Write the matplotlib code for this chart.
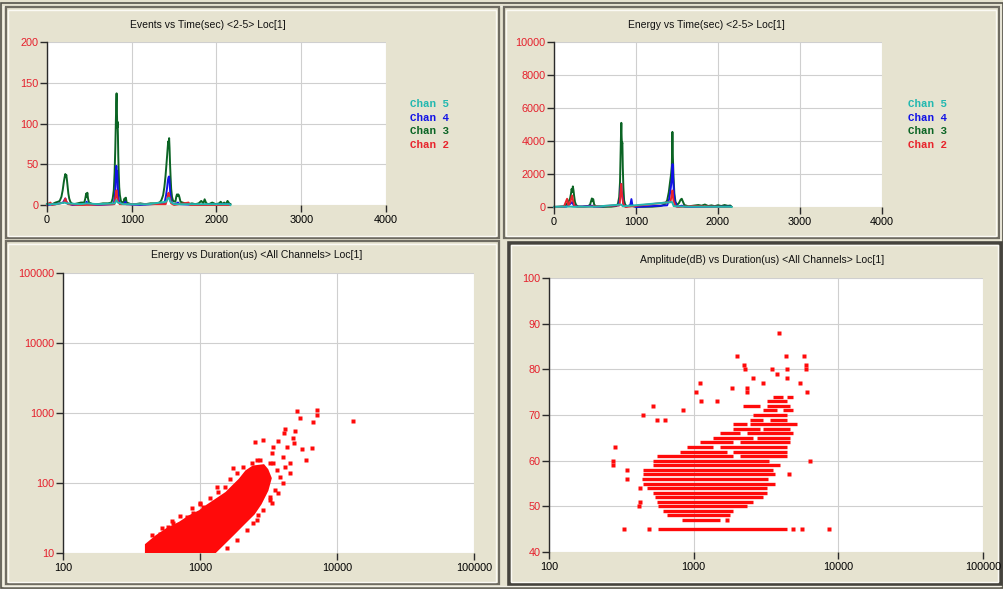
import numpy as np
import matplotlib
matplotlib.use("Agg")
import matplotlib.pyplot as plt
from matplotlib.patches import Rectangle

# ---------------------------------------------------------------- data
# Hit counts per channel over time (time in sec, count)
chan3_events = [(0,1),(30,2),(60,1),(100,3),(130,4),(150,5),(170,10),(185,18),(198,28),(208,34),(216,38),(222,35),(228,37),(236,30),(244,22),(252,14),(262,8),(275,4),(290,2),
                (320,1),(360,2),(400,3),(440,3),(452,8),(462,14),(470,10),(476,15),(484,8),(495,3),(540,1),(600,1),(660,2),(720,2),
                (760,3),(775,8),(788,18),(798,40),(806,70),(812,100),(817,125),(821,137),(825,115),(829,95),(833,102),(837,85),(841,60),(846,40),(852,22),(860,12),(872,5),(885,3),
                (905,4),(915,8),(922,5),(930,9),(940,3),(990,1),(1040,1),(1100,2),(1160,1),(1220,2),(1280,2),
                (1330,3),(1350,6),(1370,12),(1385,22),(1398,35),(1408,48),(1417,60),(1424,70),(1430,78),(1436,74),(1441,82),(1446,70),(1452,50),(1458,35),(1465,20),(1475,10),(1488,5),
                (1515,4),(1525,10),(1533,13),(1540,11),(1548,13),(1556,12),(1564,9),(1575,4),(1600,3),(1630,2),(1670,1),(1710,2),(1750,1),(1790,2),(1820,5),(1845,2),(1860,7),(1880,2),
                (1910,1),(1950,3),(1990,1),(2030,2),(2050,4),(2070,1),(2090,3),(2110,1),(2130,5),(2150,2),(2165,1)]
chan4_events = [(0,0),(100,1),(190,3),(205,6),(216,8),(226,5),(240,2),(300,0),(455,1),(468,4),(480,1),(600,0),(780,1),
                (790,3),(800,10),(808,22),(814,40),(818,48),(823,35),(828,42),(834,25),(842,10),(852,3),(880,1),(915,2),(925,4),(935,1),(1100,0),
                (1380,2),(1390,4),(1405,12),(1418,22),(1426,30),(1434,34),(1440,35),(1446,30),(1454,15),(1465,5),(1480,2),(1515,1),(1545,3),(1565,1),(1800,0),(2150,1)]
chan2_events = [(0,0),(40,3),(60,0),(200,3),(216,8),(228,4),(250,1),(400,0),(795,1),(806,8),(814,15),(820,18),(826,12),(836,5),(858,1),
                (1400,1),(1420,8),(1434,15),(1446,10),(1465,2),(1500,0),(1670,3),(1690,0),(2150,0)]
chan5_events = [(0,1),(100,1),(210,3),(230,2),(400,1),(470,2),(600,1),(800,2),(818,6),(836,3),(900,1),(1200,1),(1405,4),(1425,8),(1440,9),(1455,4),(1500,1),(1800,1),(2150,1),(2165,0)]

# Energy per channel over time (time in sec, energy)
chan3_energy = [(0,10),(60,20),(120,40),(150,150),(175,300),(195,500),(207,800),(215,1100),(222,900),(230,1250),(238,1000),(246,650),(256,300),(270,120),(290,40),(350,20),(420,60),
                (440,150),(452,350),(462,520),(470,350),(478,480),(490,150),(510,40),(600,10),(700,20),(760,60),(780,200),(795,600),(805,1500),(812,3200),(818,4600),(821,5100),(825,4200),(829,3800),(834,3900),(839,2400),(846,1200),(855,400),(868,150),(885,60),
                (925,80),(945,150),(965,40),(1050,10),(1200,20),(1300,60),(1350,150),(1380,400),(1400,900),(1415,1500),(1428,2000),(1437,2500),(1444,4550),(1450,3000),(1458,1800),(1468,800),(1482,300),(1500,120),
                (1525,250),(1545,450),(1558,500),(1570,350),(1590,120),(1640,40),(1700,80),(1760,120),(1800,80),(1840,150),(1880,60),(1920,100),(1960,50),(2000,110),(2040,60),(2080,120),(2120,70),(2150,90),(2165,20)]
chan4_energy = [(0,0),(150,20),(200,200),(222,300),(240,100),(300,10),(466,80),(486,10),(790,100),(803,500),(812,1100),(818,1400),(824,1000),(834,700),(848,150),(880,20),
                (930,100),(944,480),(956,100),(1000,0),(1380,100),(1405,500),(1425,1200),(1438,1800),(1446,2600),(1456,1400),(1470,400),(1500,20),(1560,80),(1600,0),(2150,20)]
chan2_energy = [(0,0),(120,10),(160,500),(175,100),(200,300),(220,700),(232,400),(250,50),(300,0),(800,100),(810,800),(816,1200),(820,1400),(828,800),(843,200),(870,0),
                (1420,300),(1438,800),(1444,1000),(1456,400),(1480,50),(1520,0),(1680,50),(2150,0)]
chan5_energy = [(0,5),(200,30),(240,10),(500,20),(818,150),(840,40),(1440,300),(1460,50),(1600,20),(2150,10),(2165,0)]

# Energy vs duration: outline of the dense cloud (duration us, energy)
cloud_duration = [408, 408, 483, 571, 714, 845, 1000, 1119, 1324, 1566, 1750, 1958, 2191, 2449, 2898,
                  3069, 3243, 3069, 2741, 2449, 2070, 1750, 1479, 1251]
cloud_energy   = [10, 13.0, 17.1, 21.3, 26.6, 33, 38.9, 45.9, 57.1, 71.2, 88.6, 110, 145, 168, 175,
                  153, 117, 79, 51, 36.9, 26.6, 19.1, 13.8, 10]
# isolated hits around the cloud
hit_duration = [5080, 5370, 7110, 7170, 6650, 13030, 4170, 4100, 4935, 4750, 4860, 5520, 6530, 5940,
                2900, 2520, 3730, 3430, 4290, 3340, 4050, 4540, 3240, 2740, 4170, 4540, 3840, 4050,
                3730, 3240, 3340, 2665, 2449, 1750, 1324, 1000, 1060, 893, 800, 638, 511, 587, 1960,
                444, 457,
                444, 525, 621, 714, 869, 1000, 1183, 1361, 1521, 1656, 1853, 2070, 2384, 2594,
                3428, 3630, 3526, 3243, 2898, 2594, 2191, 1853, 1566, 638, 483]
hit_energy = [1068, 857, 1104, 936, 751, 776, 585, 513, 553, 435, 369, 306, 313, 213,
              411, 389, 402, 330, 330, 266, 238, 191, 191, 213, 171, 138, 123, 99,
              71, 63, 51, 35, 26.6, 162, 88.5, 51, 45.8, 36.9, 33, 26.6, 18.7, 23.7, 26.6,
              11, 13.7,
              18.1, 23.0, 29.0, 33.8, 43.5, 50.1, 60.4, 75.1, 88.6, 113, 140, 168, 191, 213,
              191, 153, 79, 57, 41, 29.6, 21.3, 15.3, 11.7, 20.2, 14.5]

# Amplitude vs duration: runs of hits at each amplitude level (dB, from us, to us)
row_db = [45, 47, 48, 49, 50, 51, 52, 53, 54, 55, 56, 57, 58, 59, 60,
          61, 61, 62, 62, 63, 63, 64, 64, 65, 65, 66, 66, 67, 67, 68, 68,
          69, 69, 70, 71, 71, 72, 72, 73, 74, 74]
row_lo = [570, 826, 650, 617, 570, 555, 540, 526, 473, 449, 437, 449, 449, 526, 526,
          555, 2089, 805, 1878, 895, 1520, 1106, 2089, 1366, 2725, 1520, 2323, 1878, 3030, 1878, 2449,
          2449, 3367, 2582, 3030, 4160, 2203, 3196, 3196, 3550, 4396]
row_hi = [4390, 1520, 1782, 1878, 2323, 2582, 3030, 3196, 3196, 3645, 3280, 3645, 3550, 3948, 3333,
          1878, 4396, 1690, 4396, 1366, 4396, 1878, 4630, 2582, 4630, 2089, 4878, 2873, 4630, 2323, 5147,
          3030, 4396, 4396, 3750, 4878, 2873, 4630, 4396, 4160, 4878]
# isolated hits (dB, us)
amp_db  = [88, 83, 83, 83, 81, 80, 80, 80, 81, 80, 79, 77, 78, 76, 76, 77, 78, 75, 75, 75, 77,
           73, 73, 72, 70, 71, 69, 69, 60, 57, 45, 45, 45, 45, 45, 63, 60, 59, 58, 56, 50, 51, 47, 54]
amp_dur = [3908, 2003, 4325, 5815, 2230, 2263, 3500, 4400, 5950, 5950, 3780, 1106, 2582, 1830, 2323, 3030, 4420, 1040, 2323, 6100, 5400,
           1120, 1442, 526, 449, 840, 630, 555, 6366, 4530, 330, 493, 4880, 5570, 8610, 286, 278, 278, 344, 344, 421, 425, 1690, 425]

time_ticks = [0, 1000, 2000, 3000, 4000]
events_ticks = [0, 50, 100, 150, 200]
energy_ticks = [0, 2000, 4000, 6000, 8000, 10000]
log_ticks = [100, 1000, 10000, 100000]
energy_log_ticks = [10, 100, 1000, 10000, 100000]
amp_ticks = [40, 50, 60, 70, 80, 90, 100]

channels = ["Chan 5", "Chan 4", "Chan 3", "Chan 2"]
chan_colors = {"Chan 5": "#22B8B0", "Chan 4": "#1212E6", "Chan 3": "#0B6424", "Chan 2": "#E8242C"}

# ---------------------------------------------------------------- layout helpers
W, H = 1004, 589
BG = "#E6E3D0"
RED = "#FF0A0A"
LABEL_RED = "#E5202C"
SANS = ["Liberation Sans", "DejaVu Sans"]
MONO = ["Liberation Mono", "DejaVu Sans Mono"]

fig = plt.figure(figsize=(W / 100, H / 100), dpi=100, facecolor=BG)


def box(x0, y0, x1, y1):
    return [x0 / W, 1 - y1 / H, (x1 - x0) / W, (y1 - y0) / H]


def frame(x0, y0, x1, y1, dark="#6F6C62", light="#FBFAF4", lw=1.6):
    fig.add_artist(Rectangle((x0 / W, 1 - y1 / H), (x1 - x0) / W, (y1 - y0) / H,
                             transform=fig.transFigure, fill=False, ec=dark, lw=lw, zorder=-2))
    fig.add_artist(Rectangle(((x0 + 2.5) / W, 1 - (y1 - 2.5) / H), (x1 - x0 - 5) / W, (y1 - y0 - 5) / H,
                             transform=fig.transFigure, fill=False, ec=light, lw=1.0, zorder=-2))


def style(ax, xt, yt):
    ax.set_facecolor("white")
    for s in ("top", "right", "bottom"):
        ax.spines[s].set_visible(False)
    ax.spines["left"].set_color("#2A2A2A")
    ax.spines["left"].set_linewidth(1.0)
    ax.set_xticks(xt)
    ax.set_yticks(yt)
    ax.minorticks_off()
    ax.set_xticklabels([str(v) for v in xt])
    ax.set_yticklabels([str(v) for v in yt])
    ax.grid(True, color="#CFCFCF", lw=0.8)
    ax.set_axisbelow(True)
    ax.tick_params(axis="y", length=5, width=1, color="#2A2A2A", labelcolor=LABEL_RED,
                   labelsize=7.8, pad=1)
    ax.tick_params(axis="x", length=5, width=1, color="#2A2A2A", labelcolor="black",
                   labelsize=7.8, pad=2)
    for lab in ax.get_xticklabels() + ax.get_yticklabels():
        lab.set_family(SANS)


def title(x, y, text):
    fig.text(x / W, 1 - y / H, text, ha="center", va="center", fontsize=7.5, family=SANS, color="#111111")


def legend(x, y0):
    for i, name in enumerate(channels):
        fig.text(x / W, 1 - (y0 + i * 13.7) / H, name, ha="left", va="center", fontsize=7.8,
                 family=MONO, weight="bold", color=chan_colors[name])


# ---------------------------------------------------------------- panel frames
frame(1, 3, 1003, 588, dark="#55534B", light="#F3F1E6", lw=1.2)
frame(6, 7, 499, 238)
frame(504, 7, 999, 238)
frame(6, 241, 499, 584)
frame(509, 243, 1001, 584, dark="#45433D", lw=2.6)

# ---------------------------------------------------------------- events vs time
ax1 = fig.add_axes(box(47, 42, 386, 205))
ax1.set_xlim(0, 4000)
ax1.set_ylim(0, 200)
style(ax1, time_ticks, events_ticks)
for name, data in (("Chan 3", chan3_events), ("Chan 4", chan4_events),
                   ("Chan 2", chan2_events), ("Chan 5", chan5_events)):
    t, v = zip(*data)
    ax1.plot(t, v, color=chan_colors[name], lw=1.4, clip_on=False)
title(208, 25, "Events vs Time(sec) <2-5> Loc[1]")
legend(410, 104)

# ---------------------------------------------------------------- energy vs time
ax2 = fig.add_axes(box(554, 42, 882, 207))
ax2.set_xlim(0, 4000)
ax2.set_ylim(0, 10000)
style(ax2, time_ticks, energy_ticks)
for name, data in (("Chan 3", chan3_energy), ("Chan 4", chan4_energy),
                   ("Chan 2", chan2_energy), ("Chan 5", chan5_energy)):
    t, v = zip(*data)
    ax2.plot(t, v, color=chan_colors[name], lw=1.4, clip_on=False)
title(706, 25, "Energy vs Time(sec) <2-5> Loc[1]")
legend(908, 104)

# ---------------------------------------------------------------- energy vs duration
ax3 = fig.add_axes(box(63, 273, 474, 553))
ax3.set_xscale("log")
ax3.set_yscale("log")
ax3.set_xlim(100, 100000)
ax3.set_ylim(10, 100000)
style(ax3, log_ticks, energy_log_ticks)
ax3.fill(cloud_duration, cloud_energy, color=RED, ec=RED, lw=2.5)
ax3.plot(hit_duration, hit_energy, ls="none", marker="s", ms=2.6, color=RED, mec="none")
title(257, 255, "Energy vs Duration(us) <All Channels> Loc[1]")

# ---------------------------------------------------------------- amplitude vs duration
ax4 = fig.add_axes(box(549, 278, 983, 552))
ax4.set_xscale("log")
ax4.set_xlim(100, 100000)
ax4.set_ylim(40, 100)
style(ax4, log_ticks, amp_ticks)
ax4.hlines(row_db, row_lo, row_hi, colors=RED, lw=2.4)
ax4.plot(amp_dur, amp_db, ls="none", marker="s", ms=2.6, color=RED, mec="none")
title(762, 260, "Amplitude(dB) vs Duration(us) <All Channels> Loc[1]")

fig.savefig("out.png", dpi=100, facecolor=BG)
